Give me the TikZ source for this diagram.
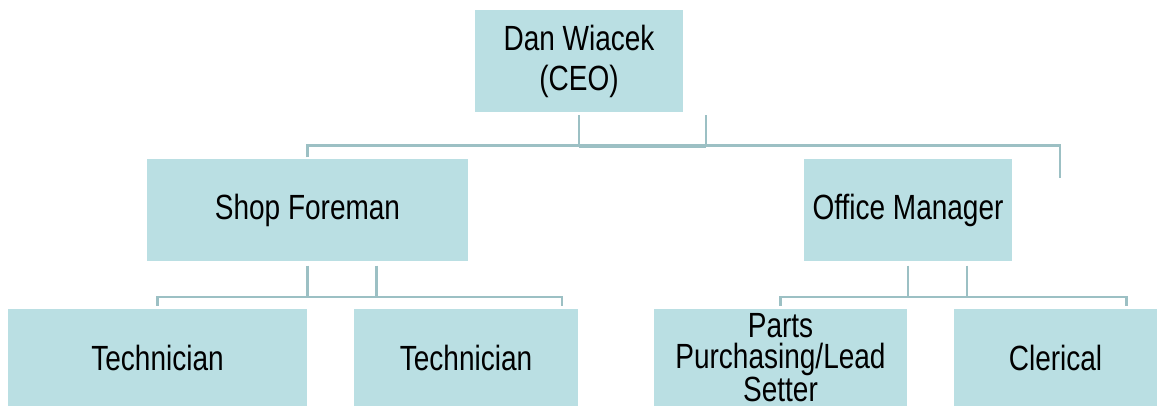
\documentclass[tikz,border=0pt]{standalone}
\usepackage{fontspec}
\setmainfont{Liberation Sans}[FakeStretch=0.8]
\usetikzlibrary{positioning}
\definecolor{boxfill}{RGB}{186,223,227}
\definecolor{linkcol}{RGB}{156,192,196}

\begin{document}
\begin{tikzpicture}[x=1pt, y=-1pt,
    box/.style={rectangle, fill=boxfill, inner sep=0pt, align=center, minimum height=102pt, font=\fontsize{35}{40}\selectfont},
    low/.style={box, minimum height=97pt},
    link/.style={draw=linkcol, line width=2.2pt}]
        \useasboundingbox (0,0) rectangle (1157,406);
        \node (ceo) [box, minimum width=208pt] at (579,61) {Dan Wiacek\\(CEO)};
        \node (shop) [box, minimum width=321pt] at (307.5,210.5) {Shop Foreman};
        \node (office) [box, minimum width=208pt] at (908,210.5) {Office Manager};
        \node (tech1) [low, minimum width=299pt] at (157.5,357.5) {Technician};
        \node (tech2) [low, minimum width=224pt] at (466,357.5) {Technician};
        \node (parts) [low, minimum width=253pt, font=\fontsize{35}{31}\selectfont] at (780.5,357.5) {Parts\\Purchasing/Lead\\Setter};
        \node (clerical) [low, minimum width=203pt] at (1055.5,357.5) {Clerical};

        \coordinate (busTop) at (0,145.5);
        \coordinate (busShop) at (0,297);
        \coordinate (ceoTap) at ([xshift=127pt,yshift=-3pt]ceo.south);
        \coordinate (busEnd) at (1060,178);
        \coordinate (shopTap) at ([xshift=69pt,yshift=-4pt]shop.south);
        \coordinate (officeTap) at ([xshift=59pt,yshift=-4pt]office.south);

        \draw[link] ([yshift=-3pt]ceo.south) -- (ceo.south |- busTop);
        \draw[link] (ceoTap) -- (ceoTap |- busTop);
        \draw[link, line width=3.4pt] ([yshift=-0.6pt]ceo.south |- busTop) -- ([yshift=-0.6pt]ceoTap |- busTop);
        \draw[link] ([yshift=2pt]shop.north) |- (busEnd |- busTop) -- (busEnd);

        \draw[link] ([yshift=-4pt]shop.south) -- (shop.south |- busShop);
        \draw[link] (shopTap) -- (shopTap |- busShop);
        \draw[link] ([yshift=3pt]tech1.north) |- ([xshift=96pt]tech2.north |- busShop) -- ([xshift=96pt,yshift=3pt]tech2.north);

        \draw[link] ([yshift=-4pt]office.south) -- (office.south |- busShop);
        \draw[link] (officeTap) -- (officeTap |- busShop);
        \draw[link] ([yshift=3pt]parts.north) |- ([xshift=71pt]clerical.north |- busShop) -- ([xshift=71pt,yshift=3pt]clerical.north);
    \end{tikzpicture}
\end{document}
